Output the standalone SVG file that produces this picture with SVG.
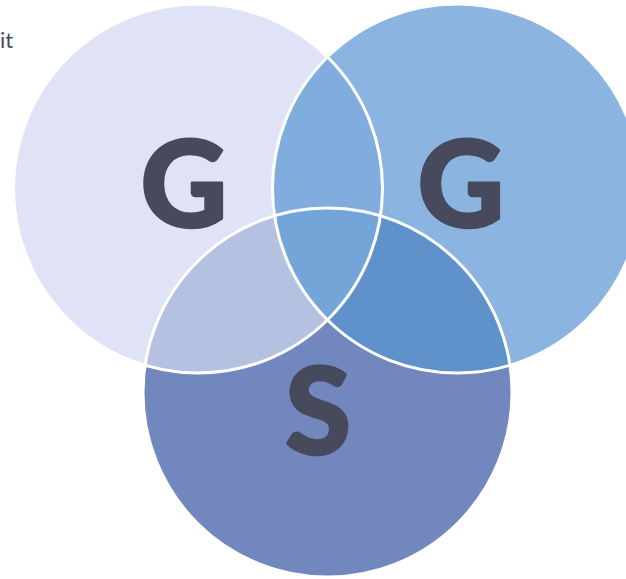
<svg xmlns="http://www.w3.org/2000/svg" width="626" height="579" viewBox="0 0 626 579">
<style>
.lbl{font-family:Lato,"Open Sans","Liberation Sans",sans-serif;font-weight:900;fill:#474a5c;stroke:#474a5c;stroke-width:2.5;stroke-linejoin:round;text-anchor:middle}
.edge{fill:none;stroke:#ffffff;stroke-width:3}
</style>
<rect width="626" height="579" fill="#ffffff"/>
<text x="0" y="48" font-family="Lato,'Open Sans','Liberation Sans',sans-serif" font-size="22" fill="#4d4d5a">it</text>
<g id="circleL"><circle cx="198" cy="188.5" r="184.5" fill="#dfe3f5"/></g>
<g id="circleR"><circle cx="457" cy="188.5" r="184.5" fill="#8bb4e0"/></g>
<g id="circleB"><circle cx="327.5" cy="392.5" r="184.5" fill="#7387bf"/></g>
<g id="lensLR"><path d="M327.5,57.1 A184.5,184.5 0 0 1 327.5,319.9 A184.5,184.5 0 0 1 327.5,57.1 Z" fill="#80acde"/></g>
<g id="lensLB"><path d="M380.5,215.75 A184.5,184.5 0 0 1 145,365.25 A184.5,184.5 0 0 1 380.5,215.75 Z" fill="#b4c1e1"/></g>
<g id="lensRB"><path d="M274.5,215.75 A184.5,184.5 0 0 1 510,365.25 A184.5,184.5 0 0 1 274.5,215.75 Z" fill="#5f91ca"/></g>
<g id="center"><path d="M274.5,215.75 A184.5,184.5 0 0 1 380.5,215.75 A184.5,184.5 0 0 1 327.5,319.9 A184.5,184.5 0 0 1 274.5,215.75 Z" fill="#73a5d8"/></g>
<g id="edges">
<circle class="edge" cx="198" cy="188.5" r="184.5"/>
<circle class="edge" cx="457" cy="188.5" r="184.5"/>
<circle class="edge" cx="327.5" cy="392.5" r="184.5"/>
</g>
<g id="labelG1"><text class="lbl" x="184" y="227" font-size="120">G</text></g>
<g id="labelG2"><text class="lbl" x="461" y="227" font-size="120">G</text></g>
<g id="labelS"><text class="lbl" x="318" y="454" font-size="120">S</text></g>
</svg>
